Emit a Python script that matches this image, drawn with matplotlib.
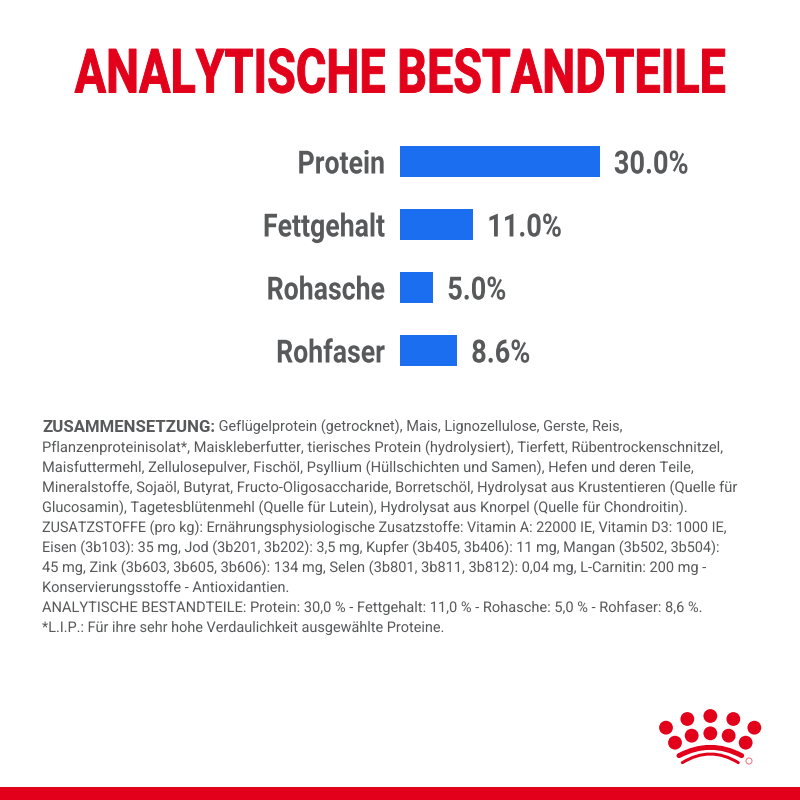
# -*- coding: utf-8 -*-
import matplotlib
matplotlib.use("Agg")
import matplotlib.pyplot as plt
import matplotlib.patheffects as pe
from matplotlib.patches import Circle, PathPatch, Rectangle
from matplotlib.path import Path
from matplotlib.transforms import Affine2D

FONT = ["Roboto", "DejaVu Sans"]
RED = "#e2001a"
GREY = "#58595b"
BLUE = "#1b6ef0"

title = "ANALYTISCHE BESTANDTEILE"
categories = ["Protein", "Fettgehalt", "Rohasche", "Rohfaser"]
values = [30.0, 11.0, 5.0, 8.6]
value_labels = ["30.0%", "11.0%", "5.0%", "8.6%"]

first_bold = "ZUSAMMENSETZUNG:"
first_rest = " Geflügelprotein (getrocknet), Mais, Lignozellulose, Gerste, Reis,"
body_lines = [
    "Pflanzenproteinisolat*, Maiskleberfutter, tierisches Protein (hydrolysiert), Tierfett, Rübentrockenschnitzel,",
    "Maisfuttermehl, Zellulosepulver, Fischöl, Psyllium (Hüllschichten und Samen), Hefen und deren Teile,",
    "Mineralstoffe, Sojaöl, Butyrat, Fructo-Oligosaccharide, Borretschöl, Hydrolysat aus Krustentieren (Quelle für",
    "Glucosamin), Tagetesblütenmehl (Quelle für Lutein), Hydrolysat aus Knorpel (Quelle für Chondroitin).",
    "ZUSATZSTOFFE (pro kg): Ernährungsphysiologische Zusatzstoffe: Vitamin A: 22000 IE, Vitamin D3: 1000 IE,",
    "Eisen (3b103): 35 mg, Jod (3b201, 3b202): 3,5 mg, Kupfer (3b405, 3b406): 11 mg, Mangan (3b502, 3b504):",
    "45 mg, Zink (3b603, 3b605, 3b606): 134 mg, Selen (3b801, 3b811, 3b812): 0,04 mg, L-Carnitin: 200 mg -",
    "Konservierungsstoffe - Antioxidantien.",
    "ANALYTISCHE BESTANDTEILE: Protein: 30,0 % - Fettgehalt: 11,0 % - Rohasche: 5,0 % - Rohfaser: 8,6 %.",
    "*L.I.P.: Für ihre sehr hohe Verdaulichkeit ausgewählte Proteine.",
]
# where each body line ends in the reference, pixels
body_ends = [723, 693, 737, 687, 727, 720, 707, 289, 702, 444]


# no condensed font installed, so reshape the glyphs when drawing
class Squeeze(pe.AbstractPathEffect):
    def __init__(self, sx, sy, anchor, bold=0):
        super().__init__()
        self.sx = sx
        self.sy = sy
        self.anchor = anchor
        self.bold = bold

    def draw_path(self, renderer, gc, tpath, affine, rgbFace=None):
        ax0, ay0 = self.anchor
        squeeze = Affine2D().translate(-ax0, -ay0).scale(self.sx, self.sy).translate(ax0, ay0)
        if self.bold:
            gc0 = renderer.new_gc()
            gc0.copy_properties(gc)
            gc0.set_linewidth(self.bold)
            gc0.set_foreground(rgbFace)
            renderer.draw_path(gc0, tpath, affine + squeeze, rgbFace)
            gc0.restore()
        else:
            renderer.draw_path(gc, tpath, affine + squeeze, rgbFace)


def squeeze_text(txt, sx, side, sy=1, bold=0):
    box = txt.get_window_extent(fig.canvas.get_renderer())
    ax0 = {"left": box.x0, "right": box.x1, "center": (box.x0 + box.x1) / 2}[side]
    txt.set_path_effects([Squeeze(sx, sy, (ax0, (box.y0 + box.y1) / 2), bold)])


fig = plt.figure(figsize=(8, 8), dpi=100, facecolor="white")

# page layer in pixel coordinates
page = fig.add_axes([0, 0, 1, 1])
page.set_xlim(0, 800)
page.set_ylim(800, 0)
page.axis("off")

title_txt = page.text(400, 76, title, color=RED, family=FONT, weight="bold",
                      fontsize=40, ha="center", va="center")
squeeze_text(title_txt, 0.84, "center", sy=1.1, bold=0.7)

# bars
ax = fig.add_axes([400 / 800, 1 - 382 / 800, 200 / 800, 252 / 800])
ax.patch.set_alpha(0)
bars = ax.barh(categories, values, height=0.49, color=BLUE)
ax.set_xlim(0, 30)
ax.set_ylim(3.5, -0.5)
ax.xaxis.set_visible(False)
for s in ax.spines.values():
    s.set_visible(False)
ax.tick_params(axis="y", length=0, pad=10.5)
for lab in ax.get_yticklabels():
    lab.set_family(FONT)
    lab.set_weight("bold")
    lab.set_fontsize(23)
    lab.set_color(GREY)
value_txts = ax.bar_label(bars, labels=value_labels, padding=10, color=GREY, family=FONT,
                          weight="bold", fontsize=23, clip_on=False)
for txt in value_txts:
    txt.set_va("center_baseline")
fig.canvas.draw()
for lab in ax.get_yticklabels():
    squeeze_text(lab, 0.835, "right")
for txt in value_txts:
    squeeze_text(txt, 0.85, "left")

# ingredients text
t = page.text(42, 432, first_bold, color=GREY, family=FONT, weight="bold",
              fontsize=12.1, va="baseline")
page.annotate(first_rest, xy=(1, 0), xycoords=t, color=GREY, family=FONT,
              fontsize=10.45, va="bottom", ha="left")
renderer = fig.canvas.get_renderer()
for i, line in enumerate(body_lines):
    txt = page.text(42, 452 + i * 20, line, color=GREY, family=FONT, fontsize=10.6,
                    va="baseline")
    box = txt.get_window_extent(renderer)
    squeeze_text(txt, (body_ends[i] - box.x0) / box.width, "left")

# logo
dots = [(108, 113), (172, 87), (241, 78), (310, 87), (373, 113),
        (135, 158), (185, 137), (241, 130), (296, 137), (347, 158)]
for zx, zy in dots:
    page.add_patch(Circle((630 + zx / 3, 690 + zy / 3), 6.9, color=RED, lw=0))
arcs = [((147, 197), (241, 147), (335, 197), 5.0),
        ((157, 218), (241, 166), (325, 218), 3.0)]
for a, b, c, w in arcs:
    verts = [(630 + p[0] / 3, 690 + p[1] / 3) for p in (a, b, c)]
    path = Path(verts, [Path.MOVETO, Path.CURVE3, Path.CURVE3])
    page.add_patch(PathPatch(path, fc="none", ec=RED, lw=w * 0.72, capstyle="round"))
page.add_patch(Circle((630 + 357 / 3, 690 + 213 / 3), 3, fc="none", ec="#e8808a", lw=0.8))

# red strip along the bottom
page.add_patch(Rectangle((0, 787), 800, 13, color=RED, lw=0))

fig.savefig("out.png", dpi=100)
